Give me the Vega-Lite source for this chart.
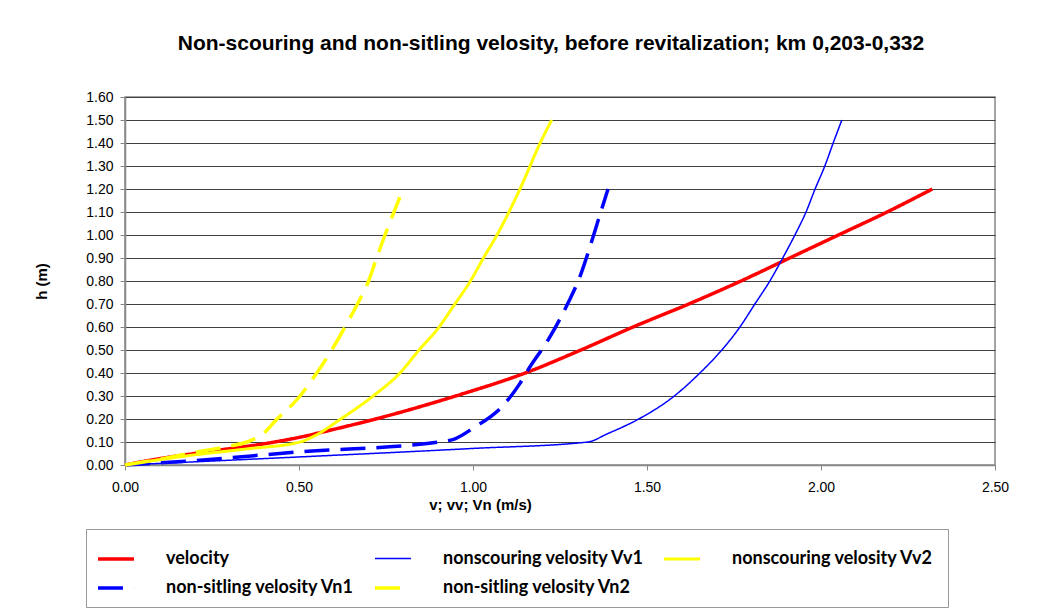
{
  "$schema": "https://vega.github.io/schema/vega-lite/v6.json",
  "width": 870,
  "height": 368,
  "autosize": {"type": "none"},
  "padding": {"left": 125, "top": 97, "right": 68, "bottom": 149},
  "background": "white",
  "title": {
    "text": "Non-scouring and non-sitling velosity, before revitalization; km 0,203-0,332",
    "font": "Liberation Sans",
    "fontSize": 21,
    "fontWeight": "bold",
    "color": "#000000",
    "anchor": "middle",
    "offset": 36,
    "dx": -9
  },
  "config": {
    "view": {"stroke": "#888888", "strokeWidth": 1.5}
  },
  "data": {
    "values": [
      {"series": "velocity", "v": 0, "h": 0},
      {"series": "velocity", "v": 0.07, "h": 0.02},
      {"series": "velocity", "v": 0.2, "h": 0.05},
      {"series": "velocity", "v": 0.43, "h": 0.1},
      {"series": "velocity", "v": 0.5, "h": 0.12},
      {"series": "velocity", "v": 0.6, "h": 0.155},
      {"series": "velocity", "v": 0.72, "h": 0.2},
      {"series": "velocity", "v": 0.95, "h": 0.3},
      {"series": "velocity", "v": 1.15, "h": 0.4},
      {"series": "velocity", "v": 1.31, "h": 0.5},
      {"series": "velocity", "v": 1.46, "h": 0.6},
      {"series": "velocity", "v": 1.62, "h": 0.7},
      {"series": "velocity", "v": 1.77, "h": 0.8},
      {"series": "velocity", "v": 1.91, "h": 0.9},
      {"series": "velocity", "v": 2.05, "h": 1.0},
      {"series": "velocity", "v": 2.19, "h": 1.1},
      {"series": "velocity", "v": 2.32, "h": 1.2},

      {"series": "nonscouring velosity  Vv1", "v": 0, "h": 0},
      {"series": "nonscouring velosity  Vv1", "v": 0.5, "h": 0.035},
      {"series": "nonscouring velosity  Vv1", "v": 1.0, "h": 0.072},
      {"series": "nonscouring velosity  Vv1", "v": 1.33, "h": 0.1},
      {"series": "nonscouring velosity  Vv1", "v": 1.385, "h": 0.135},
      {"series": "nonscouring velosity  Vv1", "v": 1.47, "h": 0.195},
      {"series": "nonscouring velosity  Vv1", "v": 1.575, "h": 0.296},
      {"series": "nonscouring velosity  Vv1", "v": 1.652, "h": 0.4},
      {"series": "nonscouring velosity  Vv1", "v": 1.715, "h": 0.5},
      {"series": "nonscouring velosity  Vv1", "v": 1.767, "h": 0.6},
      {"series": "nonscouring velosity  Vv1", "v": 1.81, "h": 0.7},
      {"series": "nonscouring velosity  Vv1", "v": 1.853, "h": 0.8},
      {"series": "nonscouring velosity  Vv1", "v": 1.89, "h": 0.9},
      {"series": "nonscouring velosity  Vv1", "v": 1.925, "h": 1.0},
      {"series": "nonscouring velosity  Vv1", "v": 1.957, "h": 1.1},
      {"series": "nonscouring velosity  Vv1", "v": 1.983, "h": 1.2},
      {"series": "nonscouring velosity  Vv1", "v": 2.011, "h": 1.3},
      {"series": "nonscouring velosity  Vv1", "v": 2.035, "h": 1.4},
      {"series": "nonscouring velosity  Vv1", "v": 2.06, "h": 1.5},

      {"series": "nonscouring velosity  Vv2", "v": 0, "h": 0},
      {"series": "nonscouring velosity  Vv2", "v": 0.178, "h": 0.04},
      {"series": "nonscouring velosity  Vv2", "v": 0.35, "h": 0.07},
      {"series": "nonscouring velosity  Vv2", "v": 0.503, "h": 0.1},
      {"series": "nonscouring velosity  Vv2", "v": 0.54, "h": 0.123},
      {"series": "nonscouring velosity  Vv2", "v": 0.62, "h": 0.2},
      {"series": "nonscouring velosity  Vv2", "v": 0.713, "h": 0.3},
      {"series": "nonscouring velosity  Vv2", "v": 0.79, "h": 0.4},
      {"series": "nonscouring velosity  Vv2", "v": 0.845, "h": 0.5},
      {"series": "nonscouring velosity  Vv2", "v": 0.9, "h": 0.595},
      {"series": "nonscouring velosity  Vv2", "v": 0.948, "h": 0.7},
      {"series": "nonscouring velosity  Vv2", "v": 0.991, "h": 0.796},
      {"series": "nonscouring velosity  Vv2", "v": 1.03, "h": 0.9},
      {"series": "nonscouring velosity  Vv2", "v": 1.069, "h": 1.0},
      {"series": "nonscouring velosity  Vv2", "v": 1.135, "h": 1.2},
      {"series": "nonscouring velosity  Vv2", "v": 1.193, "h": 1.4},
      {"series": "nonscouring velosity  Vv2", "v": 1.226, "h": 1.5},

      {"series": "non-sitling velosity  Vn1", "v": 0, "h": 0},
      {"series": "non-sitling velosity  Vn1", "v": 0.18, "h": 0.017},
      {"series": "non-sitling velosity  Vn1", "v": 0.5, "h": 0.057},
      {"series": "non-sitling velosity  Vn1", "v": 0.9, "h": 0.1},
      {"series": "non-sitling velosity  Vn1", "v": 0.95, "h": 0.115},
      {"series": "non-sitling velosity  Vn1", "v": 1.0, "h": 0.16},
      {"series": "non-sitling velosity  Vn1", "v": 1.087, "h": 0.26},
      {"series": "non-sitling velosity  Vn1", "v": 1.135, "h": 0.355},
      {"series": "non-sitling velosity  Vn1", "v": 1.158, "h": 0.413},
      {"series": "non-sitling velosity  Vn1", "v": 1.221, "h": 0.557},
      {"series": "non-sitling velosity  Vn1", "v": 1.273, "h": 0.704},
      {"series": "non-sitling velosity  Vn1", "v": 1.307, "h": 0.818},
      {"series": "non-sitling velosity  Vn1", "v": 1.336, "h": 0.948},
      {"series": "non-sitling velosity  Vn1", "v": 1.36, "h": 1.065},
      {"series": "non-sitling velosity  Vn1", "v": 1.388, "h": 1.2},

      {"series": "non-sitling velosity  Vn2", "v": 0, "h": 0},
      {"series": "non-sitling velosity  Vn2", "v": 0.1, "h": 0.025},
      {"series": "non-sitling velosity  Vn2", "v": 0.2, "h": 0.055},
      {"series": "non-sitling velosity  Vn2", "v": 0.3, "h": 0.082},
      {"series": "non-sitling velosity  Vn2", "v": 0.35, "h": 0.1},
      {"series": "non-sitling velosity  Vn2", "v": 0.4, "h": 0.14},
      {"series": "non-sitling velosity  Vn2", "v": 0.431, "h": 0.19},
      {"series": "non-sitling velosity  Vn2", "v": 0.503, "h": 0.3},
      {"series": "non-sitling velosity  Vn2", "v": 0.551, "h": 0.4},
      {"series": "non-sitling velosity  Vn2", "v": 0.594, "h": 0.5},
      {"series": "non-sitling velosity  Vn2", "v": 0.632, "h": 0.6},
      {"series": "non-sitling velosity  Vn2", "v": 0.668, "h": 0.7},
      {"series": "non-sitling velosity  Vn2", "v": 0.7, "h": 0.8},
      {"series": "non-sitling velosity  Vn2", "v": 0.723, "h": 0.9},
      {"series": "non-sitling velosity  Vn2", "v": 0.747, "h": 1.0},
      {"series": "non-sitling velosity  Vn2", "v": 0.79, "h": 1.165}
    ]
  },
  "mark": {"type": "line", "interpolate": "monotone", "strokeCap": "butt"},
  "encoding": {
    "x": {
      "field": "v",
      "type": "quantitative",
      "scale": {"domain": [0, 2.5], "nice": false, "zero": false},
      "axis": {
        "values": [0, 0.5, 1, 1.5, 2, 2.5],
        "format": ".2f",
        "title": "v; vv; Vn (m/s)",
        "grid": false,
        "labelFlush": false,
        "domainColor": "#888888",
        "domainWidth": 1.5,
        "tickColor": "#888888",
        "tickSize": 5,
        "labelFont": "Liberation Sans",
        "labelFontSize": 14,
        "labelColor": "#000000",
        "labelPadding": 10,
        "titleFont": "Liberation Sans",
        "titleFontSize": 15,
        "titleFontWeight": "bold",
        "titleColor": "#000000",
        "titlePadding": 3,
        "titleX": 355
      }
    },
    "y": {
      "field": "h",
      "type": "quantitative",
      "scale": {"domain": [0, 1.6], "nice": false},
      "axis": {
        "values": [0, 0.1, 0.2, 0.3, 0.4, 0.5, 0.6, 0.7, 0.8, 0.9, 1.0, 1.1, 1.2, 1.3, 1.4, 1.5, 1.6],
        "format": ".2f",
        "title": "h (m)",
        "grid": true,
        "labelFlush": false,
        "gridColor": "#404040",
        "gridWidth": 1,
        "domainColor": "#888888",
        "domainWidth": 1.5,
        "tickColor": "#888888",
        "tickSize": 5,
        "labelFont": "Liberation Sans",
        "labelFontSize": 14,
        "labelColor": "#000000",
        "labelPadding": 7,
        "titleFont": "Liberation Sans",
        "titleFontSize": 15,
        "titleFontWeight": "bold",
        "titleColor": "#000000",
        "titlePadding": 36
      }
    },
    "color": {
      "field": "series",
      "type": "nominal",
      "sort": null,
      "scale": {
        "domain": ["velocity", "nonscouring velosity  Vv1", "nonscouring velosity  Vv2", "non-sitling velosity  Vn1", "non-sitling velosity  Vn2"],
        "range": ["#FF0000", "#0000FF", "#FFFF00", "#0000FF", "#FFFF00"]
      },
      "legend": {
        "title": null,
        "orient": "none",
        "legendX": -39,
        "legendY": 432,
        "direction": "horizontal",
        "columns": 3,
        "symbolType": "stroke",
        "symbolSize": 1300,
        "labelFont": "Lato",
        "labelFontSize": 18,
        "labelFontWeight": "bold",
        "labelColor": "#000000",
        "labelOffset": 30,
        "labelLimit": 400,
        "columnPadding": 8,
        "rowPadding": -9,
        "padding": 10,
        "strokeColor": "#999999",
        "fillColor": "white"
      }
    },
    "strokeDash": {
      "field": "series",
      "type": "nominal",
      "sort": null,
      "scale": {
        "domain": ["velocity", "nonscouring velosity  Vv1", "nonscouring velosity  Vv2", "non-sitling velosity  Vn1", "non-sitling velosity  Vn2"],
        "range": [[1, 0], [1, 0], [1, 0], [25, 11], [25, 11]]
      }
    },
    "strokeWidth": {
      "field": "series",
      "type": "ordinal",
      "sort": null,
      "scale": {
        "type": "ordinal",
        "domain": ["velocity", "nonscouring velosity  Vv1", "nonscouring velosity  Vv2", "non-sitling velosity  Vn1", "non-sitling velosity  Vn2"],
        "range": [3.5, 1.5, 3, 3.5, 3.5]
      }
    },
    "order": {"field": "h"}
  }
}
